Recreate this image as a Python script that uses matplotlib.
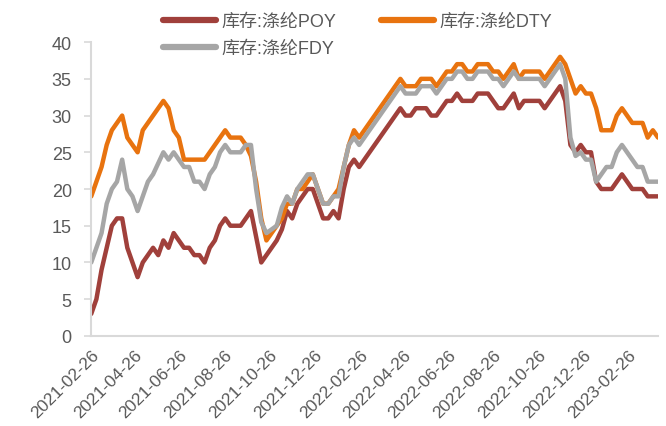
import matplotlib
matplotlib.use("Agg")
import matplotlib.pyplot as plt
import matplotlib.dates as mdates
import numpy as np
import pandas as pd

plt.rcParams['font.family'] = ['Liberation Sans', 'Noto Sans CJK SC']

# weekly observations, 2021-02-26 .. 2023-03-31
dates = pd.date_range("2021-02-26", periods=111, freq="7D")

poy = [3, 5, 9, 12, 15, 16, 16, 12, 10, 8,
       10, 11, 12, 11, 13, 12, 14, 13, 12, 12,
       11, 11, 10, 12, 13, 15, 16, 15, 15, 15,
       16, 17, 13.5, 10, 11, 12, 13, 14.5, 17, 16,
       18, 19, 20, 20, 18, 16, 16, 17, 16, 20,
       23, 24, 23, 24, 25, 26, 27, 28, 29, 30,
       31, 30, 30, 31, 31, 31, 30, 30, 31, 32,
       32, 33, 32, 32, 32, 33, 33, 33, 32, 31,
       31, 32, 33, 31, 32, 32, 32, 32, 31, 32,
       33, 34, 32, 26, 25, 26, 25, 25, 21, 20,
       20, 20, 21, 22, 21, 20, 20, 20, 19, 19,
       19]

dty = [19, 21, 23, 26, 28, 29, 30, 27, 26, 25,
       28, 29, 30, 31, 32, 31, 28, 27, 24, 24,
       24, 24, 24, 25, 26, 27, 28, 27, 27, 27,
       26, 24.5, 21, 16, 13, 14, 15, 16, 18, 18,
       20, 20, 21, 22, 20, 18, 18, 19, 20, 23,
       26, 28, 27, 28, 29, 30, 31, 32, 33, 34,
       35, 34, 34, 34, 35, 35, 35, 34, 35, 36,
       36, 37, 37, 36, 36, 37, 37, 37, 36, 36,
       35, 36, 37, 35, 36, 36, 36, 36, 35, 36,
       37, 38, 37, 35, 33, 34, 33, 33, 31, 28,
       28, 28, 30, 31, 30, 29, 29, 29, 27, 28,
       27]

fdy = [10, 12, 14, 18, 20, 21, 24, 20, 19, 17,
       19, 21, 22, 23.5, 25, 24, 25, 24, 23, 23,
       21, 21, 20, 22, 23, 25, 26, 25, 25, 25,
       26, 26, 20, 15.5, 14, 14.5, 15, 17.5, 19, 18,
       20, 21, 22, 22, 20, 18, 18, 19, 19, 23,
       26, 27, 26, 27, 28, 29, 30, 31, 32, 33,
       34, 33, 33, 33, 34, 34, 34, 33, 34, 35,
       35, 36, 36, 35, 35, 36, 36, 36, 35, 35,
       34, 35, 36, 35, 35, 35, 35, 35, 34, 35,
       36, 37, 35, 27, 24.5, 25, 24, 24, 21, 22,
       23, 23, 25, 26, 25, 24, 23, 23, 21, 21,
       21]

series_names = ["库存:涤纶POY", "库存:涤纶DTY", "库存:涤纶FDY"]
colors = ["#A0403B", "#E8730F", "#A6A6A6"]
# axis labels every two months, on the 26th
tick_dates = pd.date_range("2021-02-01", periods=13, freq="2MS") + pd.Timedelta(days=25)

fig = plt.figure(figsize=(6.66, 4.27), dpi=100)
ax = fig.add_axes([0.137, 0.211, 0.851, 0.688])

lines = []
for vals, name, c in zip([poy, dty, fdy], series_names, colors):
    ln, = ax.plot(dates, vals, color=c, lw=3.2, label=name,
                  solid_joinstyle="round", solid_capstyle="round")
    lines.append(ln)

ax.set_ylim(0, 40)
ax.set_yticks(np.arange(0, 41, 5))
ax.set_xlim(dates[0], dates[-1])
ax.set_xticks(tick_dates)
ax.xaxis.set_major_formatter(mdates.DateFormatter("%Y-%m-%d"))
plt.setp(ax.get_xticklabels(), rotation=45, ha="right", rotation_mode="anchor")

for s in ["top", "right"]:
    ax.spines[s].set_visible(False)
for s in ["left", "bottom"]:
    ax.spines[s].set_color("#D9D9D9")
    ax.spines[s].set_linewidth(1.5)
ax.tick_params(axis="y", colors="#D9D9D9", labelcolor="#595959",
               labelsize=13, length=5, width=1.2, pad=9)
ax.tick_params(axis="x", length=0, labelcolor="#595959", labelsize=12.5, pad=8)

leg = fig.legend([lines[0], lines[2], lines[1]],
                 [series_names[0], series_names[2], series_names[1]],
                 ncol=2, loc="upper left", bbox_to_anchor=(0.221, 1.005),
                 frameon=False, fontsize=13, handlelength=2.9,
                 columnspacing=2.5, labelspacing=0.55, handletextpad=0.3)
for t in leg.get_texts():
    t.set_color("#595959")
for h in leg.legend_handles:
    h.set_linewidth(4.5)

fig.savefig("out.png", dpi=100)
